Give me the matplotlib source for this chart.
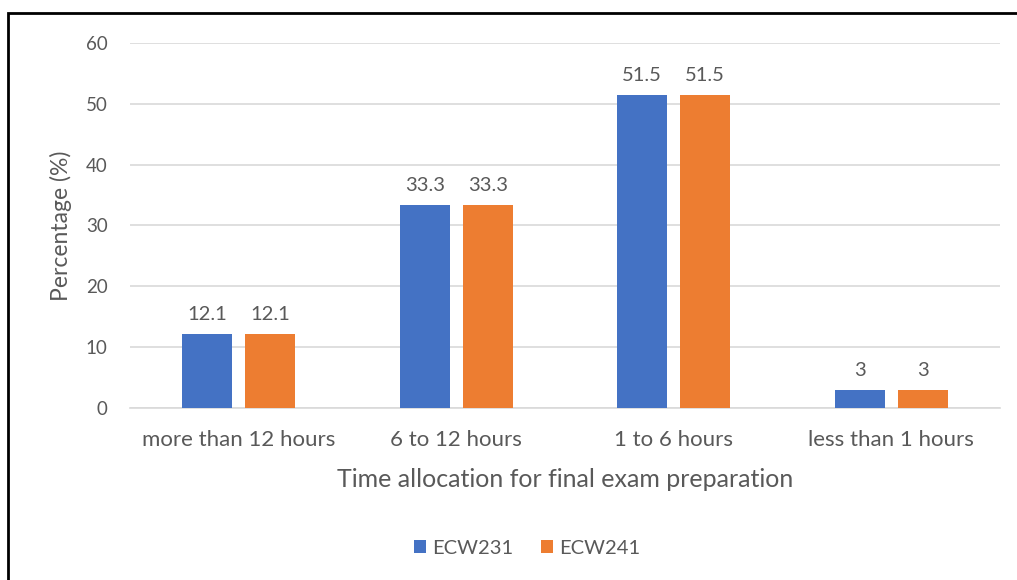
import matplotlib.pyplot as plt
import numpy as np
from matplotlib.patches import Rectangle

categories = ["more than 12 hours", "6 to 12 hours", "1 to 6 hours", "less than 1 hours"]
ecw231 = [12.1, 33.3, 51.5, 3]
ecw241 = [12.1, 33.3, 51.5, 3]
yticks = [0, 10, 20, 30, 40, 50, 60]

plt.rcParams["font.family"] = ["Lato", "DejaVu Sans"]
text_color = "#595959"

fig = plt.figure(figsize=(10.17, 5.8), dpi=100)
ax = fig.add_axes([0.1278, 0.2966, 0.8555, 0.6293])

x = np.arange(len(categories))
width = 0.23
offset = 0.145
b1 = ax.bar(x - offset, ecw231, width, color="#4472C4", label="ECW231", zorder=3)
b2 = ax.bar(x + offset, ecw241, width, color="#ED7D31", label="ECW241", zorder=3)

for bars in (b1, b2):
    for rect in bars:
        h = rect.get_height()
        ax.annotate(f"{h:g}", (rect.get_x() + rect.get_width() / 2, h),
                    xytext=(0, 8), textcoords="offset points",
                    ha="center", va="bottom", fontsize=14.5, color=text_color)

ax.set_xlim(-0.5, len(categories) - 0.5)
ax.set_ylim(0, 60)
ax.set_yticks(yticks)
ax.set_xticks(x)
ax.set_xticklabels(categories)
ax.grid(axis="y", color="#D9D9D9", linewidth=1.2, zorder=0)
ax.tick_params(axis="both", length=0, colors=text_color)
ax.tick_params(axis="x", pad=16, labelsize=16)
ax.tick_params(axis="y", pad=16, labelsize=13.5)
for s in ["top", "right", "left"]:
    ax.spines[s].set_visible(False)
ax.spines["bottom"].set_color("#D9D9D9")
ax.spines["bottom"].set_linewidth(1.2)

ax.set_ylabel("Percentage (%)", fontsize=16.5, color=text_color, labelpad=10)
ax.set_xlabel("Time allocation for final exam preparation", fontsize=18,
              color=text_color, labelpad=13)

fig.legend(handles=[b1, b2], labels=["ECW231", "ECW241"], loc="center",
           bbox_to_anchor=(527 / 1017, 1 - 548 / 580), ncol=2, frameon=False,
           fontsize=14.5, labelcolor=text_color, handlelength=0.6, handleheight=0.6,
           handletextpad=0.3, columnspacing=1.4)

fig.add_artist(Rectangle((8 / 1017, -0.05), 1.1, 1 - 13 / 580 + 0.05,
                         transform=fig.transFigure, fill=False,
                         edgecolor="black", linewidth=2))

fig.savefig("out.png", dpi=100)
